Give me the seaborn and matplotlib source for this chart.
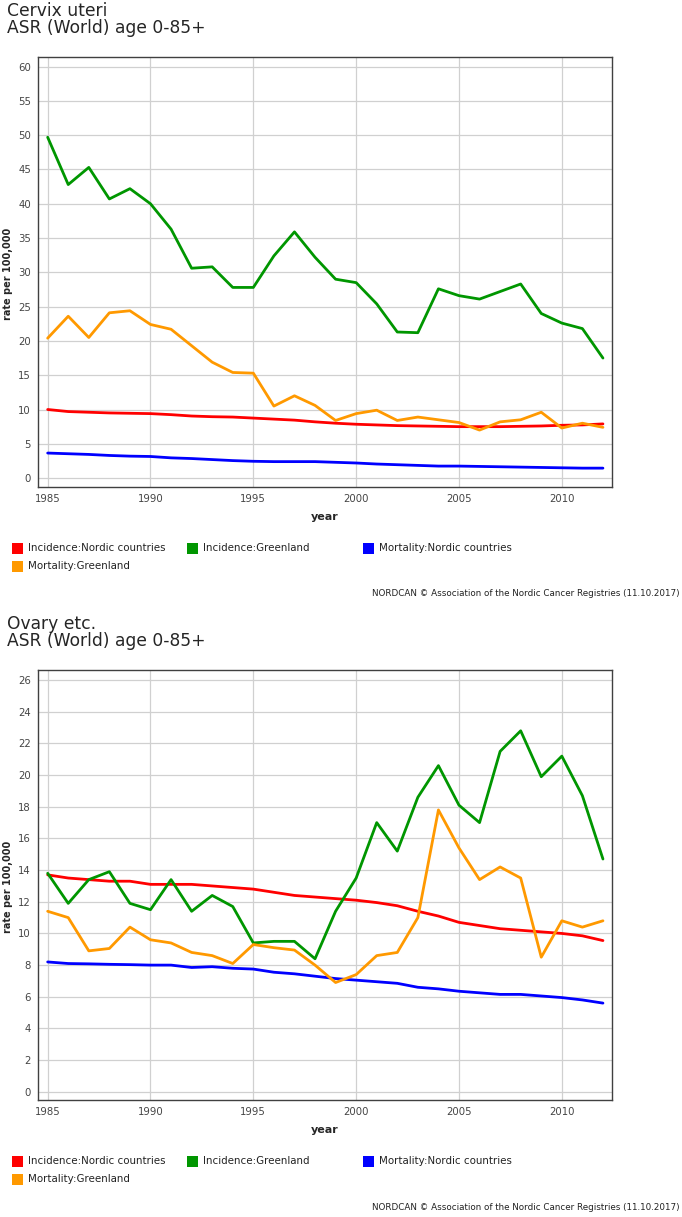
import matplotlib
matplotlib.use("Agg")
import matplotlib.pyplot as plt
from matplotlib.patches import Rectangle
import pandas as pd
import seaborn as sns

years = list(range(1985, 2013))
series_names = ['Incidence:Nordic countries', 'Incidence:Greenland',
                'Mortality:Nordic countries', 'Mortality:Greenland']
series_colors = ['#ff0000', '#009600', '#0000ff', '#ff9900']

# Cervix uteri
cervix_inc_nordic = [10.0, 9.7, 9.6, 9.5, 9.45, 9.4, 9.25, 9.05, 8.95, 8.9,
                     8.75, 8.6, 8.45, 8.2, 8.0, 7.85, 7.75, 7.65, 7.6, 7.55,
                     7.5, 7.5, 7.5, 7.55, 7.6, 7.7, 7.75, 7.9]
cervix_inc_greenland = [49.7, 42.8, 45.3, 40.7, 42.2, 40.0, 36.3, 30.6, 30.8, 27.8,
                        27.8, 32.4, 35.9, 32.2, 29.0, 28.5, 25.4, 21.3, 21.2, 27.6,
                        26.6, 26.1, 27.2, 28.3, 24.0, 22.6, 21.8, 17.5]
cervix_mort_nordic = [3.65, 3.55, 3.45, 3.3, 3.2, 3.15, 2.95, 2.85, 2.7, 2.55,
                      2.45, 2.4, 2.4, 2.4, 2.3, 2.2, 2.05, 1.95, 1.85, 1.75,
                      1.75, 1.7, 1.65, 1.6, 1.55, 1.5, 1.45, 1.45]
cervix_mort_greenland = [20.4, 23.6, 20.5, 24.1, 24.4, 22.4, 21.7, 19.3, 16.9, 15.4,
                         15.3, 10.5, 12.0, 10.6, 8.4, 9.4, 9.9, 8.4, 8.9, 8.5,
                         8.1, 7.0, 8.2, 8.5, 9.6, 7.3, 8.0, 7.4]

# Ovary etc.
ovary_inc_nordic = [13.7, 13.5, 13.4, 13.3, 13.3, 13.1, 13.1, 13.1, 13.0, 12.9,
                    12.8, 12.6, 12.4, 12.3, 12.2, 12.1, 11.95, 11.75, 11.4, 11.1,
                    10.7, 10.5, 10.3, 10.2, 10.1, 10.0, 9.85, 9.55]
ovary_inc_greenland = [13.8, 11.9, 13.4, 13.9, 11.9, 11.5, 13.4, 11.4, 12.4, 11.7,
                       9.4, 9.5, 9.5, 8.4, 11.4, 13.5, 17.0, 15.2, 18.6, 20.6,
                       18.1, 17.0, 21.5, 22.8, 19.9, 21.2, 18.7, 14.7]
ovary_mort_nordic = [8.2, 8.1, 8.08, 8.05, 8.03, 8.0, 8.0, 7.85, 7.9, 7.8,
                     7.75, 7.55, 7.45, 7.3, 7.15, 7.05, 6.95, 6.85, 6.6, 6.5,
                     6.35, 6.25, 6.15, 6.15, 6.05, 5.95, 5.8, 5.6]
ovary_mort_greenland = [11.4, 11.0, 8.9, 9.05, 10.4, 9.6, 9.4, 8.8, 8.6, 8.1,
                        9.3, 9.1, 8.95, 8.0, 6.9, 7.4, 8.6, 8.8, 11.0, 17.8,
                        15.4, 13.4, 14.2, 13.5, 8.5, 10.8, 10.4, 10.8]

cervix_ticks = list(range(0, 61, 5))
ovary_ticks = list(range(0, 27, 2))
year_ticks = list(range(1985, 2011, 5))
credit = 'NORDCAN \u00a9 Association of the Nordic Cancer Registries (11.10.2017)'

W, H = 682, 1217


def fx(px):
    return px / W


def fy(py):
    return 1 - py / H


def to_long(values_list):
    frames = []
    for name, vals in zip(series_names, values_list):
        frames.append(pd.DataFrame({'year': years, 'rate': vals, 'series': name}))
    return pd.concat(frames, ignore_index=True)


def draw_panel(fig, top_px, title, values_list, yticks, ylim):
    bottom_px = top_px + 430
    ax = fig.add_axes([fx(38), fy(bottom_px), fx(612) - fx(38), (bottom_px - top_px) / H])
    df = to_long(values_list)
    sns.lineplot(data=df, x='year', y='rate', hue='series', hue_order=series_names,
                 palette=dict(zip(series_names, series_colors)), linewidth=2.0,
                 legend=False, ax=ax)
    ax.set_xlim(1984.53, 2012.44)
    ax.set_ylim(*ylim)
    ax.set_xticks(year_ticks)
    ax.set_yticks(yticks)
    ax.grid(True, color='#d0d0d0', linewidth=0.9)
    ax.set_axisbelow(True)
    for sp in ax.spines.values():
        sp.set_visible(True)
        sp.set_color('#404040')
        sp.set_linewidth(1.0)
    ax.tick_params(axis='both', length=3, width=0.8, color='#404040',
                   labelsize=7.3, labelcolor='#444444', pad=2)
    ax.set_xlabel('')
    ax.set_ylabel('')

    fig.text(fx(7), fy(top_px - 41), title, fontsize=12.3, ha='left', va='baseline')
    fig.text(fx(7), fy(top_px - 24), 'ASR (World) age 0-85+', fontsize=12.3,
             ha='left', va='baseline')
    fig.text(fx(8), fy(top_px + 217), 'rate per 100,000', fontsize=7, fontweight='bold',
             rotation=90, ha='center', va='center')
    fig.text(fx(325), fy(bottom_px + 30), 'year', fontsize=8, fontweight='bold',
             ha='center', va='center')

    legend_pos = [(12, 61), (187, 61), (363, 61), (12, 79)]
    for (lx, dy), name, col in zip(legend_pos, series_names, series_colors):
        cy = bottom_px + dy
        fig.patches.append(Rectangle((fx(lx), fy(cy + 5.5)), 11 / W, 11 / H,
                                     transform=fig.transFigure, facecolor=col,
                                     edgecolor='none'))
        fig.text(fx(lx + 16), fy(cy), name, fontsize=7.4, color='#222222',
                 ha='left', va='center')
    fig.text(fx(680), fy(bottom_px + 107), credit, fontsize=6.3, color='#222222',
             ha='right', va='center')
    return ax


sns.set_style('white')
plt.rcParams['font.family'] = ['DejaVu Sans']

fig = plt.figure(figsize=(W / 100, H / 100), dpi=100)
draw_panel(fig, 57, 'Cervix uteri',
           [cervix_inc_nordic, cervix_inc_greenland, cervix_mort_nordic, cervix_mort_greenland],
           cervix_ticks, (-1.3, 61.4))
draw_panel(fig, 670, 'Ovary etc.',
           [ovary_inc_nordic, ovary_inc_greenland, ovary_mort_nordic, ovary_mort_greenland],
           ovary_ticks, (-0.52, 26.64))

fig.savefig('out.png', dpi=100)
